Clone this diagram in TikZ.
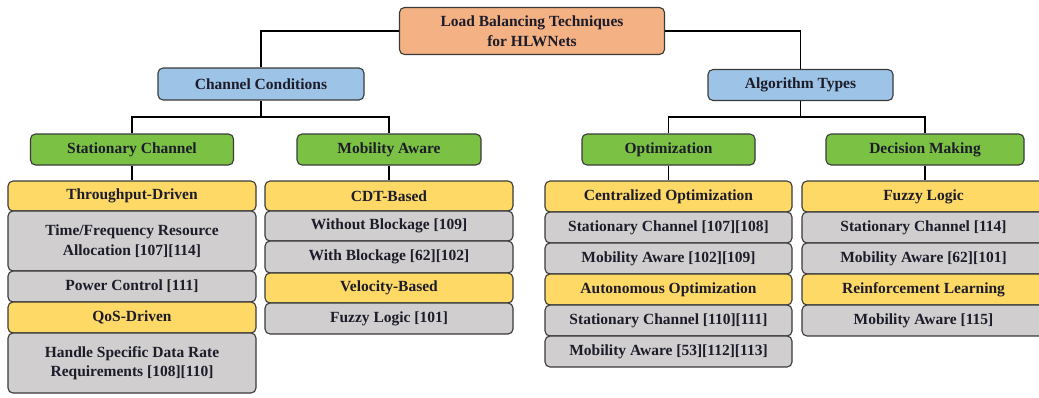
\documentclass[tikz,border=0pt]{standalone}
\usepackage{fontspec}
\setmainfont{Liberation Serif}
\definecolor{cRoot}{HTML}{F4B183}
\definecolor{cBlue}{HTML}{9DC3E6}
\definecolor{cGreen}{HTML}{7BC143}
\definecolor{cYellow}{HTML}{FFD966}
\definecolor{cGray}{HTML}{D0CECE}
\definecolor{cEdge}{HTML}{3A3A3A}
\definecolor{cText}{HTML}{1C1C2A}
\tikzset{
  box/.style={draw=cEdge, line width=1.1pt, rounded corners=5pt, inner sep=0pt, align=center,
    font=\bfseries\fontsize{15.5}{19.5}\selectfont, text=cText},
  rootbox/.style={box, fill=cRoot},
  bluebox/.style={box, fill=cBlue},
  greenbox/.style={box, fill=cGreen},
  ybox/.style={box, fill=cYellow},
  gbox/.style={box, fill=cGray},
  link/.style={draw=black, line width=1.8pt},
}
\begin{document}
\begin{tikzpicture}[x=1pt,y=-1pt]
\useasboundingbox (0,0) rectangle (1039,397);
% root
\node[rootbox, minimum width=265, minimum height=47] (root) at (532,31) {Load Balancing Techniques\\for HLWNets};
% level 1
\node[bluebox, minimum width=206, minimum height=32] (cc) at (261,84) {Channel Conditions};
\node[bluebox, minimum width=185, minimum height=31] (at) at (800.5,85) {Algorithm Types};
% level 2
\node[greenbox, minimum width=203, minimum height=31] (sc) at (132,149.5) {Stationary Channel};
\node[greenbox, minimum width=184, minimum height=31] (ma) at (389,149.5) {Mobility Aware};
\node[greenbox, minimum width=173, minimum height=31] (op) at (668.5,149.5) {Optimization};
\node[greenbox, minimum width=198, minimum height=31] (dm) at (925,149.5) {Decision Making};
% stack 1
\node[ybox, minimum width=248, minimum height=30] (s1a) at (132,196) {Throughput-Driven};
\node[gbox, minimum width=248, minimum height=60] (s1b) at (132,241) {Time/Frequency Resource\\Allocation [107][114]};
\node[gbox, minimum width=248, minimum height=31] (s1c) at (132,286.5) {Power Control [111]};
\node[ybox, minimum width=248, minimum height=31] (s1d) at (132,317.5) {QoS-Driven};
\node[gbox, minimum width=248, minimum height=60] (s1e) at (132,363) {Handle Specific Data Rate\\Requirements [108][110]};
% stack 2
\node[ybox, minimum width=248, minimum height=30] (s2a) at (389,196) {CDT-Based};
\node[gbox, minimum width=248, minimum height=30] (s2b) at (389,226) {Without Blockage [109]};
\node[gbox, minimum width=248, minimum height=32] (s2c) at (389,257) {With Blockage [62][102]};
\node[ybox, minimum width=248, minimum height=30] (s2d) at (389,288) {Velocity-Based};
\node[gbox, minimum width=248, minimum height=31] (s2e) at (389,318.5) {Fuzzy Logic [101]};
% stack 3
\node[ybox, minimum width=247, minimum height=31] (s3a) at (668.5,196.5) {Centralized Optimization};
\node[gbox, minimum width=247, minimum height=31] (s3b) at (668.5,227.5) {Stationary Channel [107][108]};
\node[gbox, minimum width=247, minimum height=31] (s3c) at (668.5,258.5) {Mobility Aware [102][109]};
\node[ybox, minimum width=247, minimum height=31] (s3d) at (668.5,289.5) {Autonomous Optimization};
\node[gbox, minimum width=247, minimum height=31] (s3e) at (668.5,320.5) {Stationary Channel [110][111]};
\node[gbox, minimum width=247, minimum height=31] (s3f) at (668.5,351.5) {Mobility Aware [53][112][113]};
% stack 4
\node[ybox, minimum width=243, minimum height=31] (s4a) at (923.5,196.5) {Fuzzy Logic};
\node[gbox, minimum width=243, minimum height=31] (s4b) at (923.5,227.5) {Stationary Channel [114]};
\node[gbox, minimum width=243, minimum height=31] (s4c) at (923.5,258.5) {Mobility Aware [62][101]};
\node[ybox, minimum width=243, minimum height=31] (s4d) at (923.5,289.5) {Reinforcement Learning};
\node[gbox, minimum width=243, minimum height=31] (s4e) at (923.5,320.5) {Mobility Aware [115]};
% connectors
\path[link] (root.west) -| (cc.north);
\path[link] (root.east) -| (at.north);
\coordinate (j1) at (261,117);
\coordinate (j2) at (800.5,117);
\path[link] (cc.south) -- (j1);
\path[link] (sc.north) |- (j1) -| (ma.north);
\path[link] (at.south) -- (j2);
\path[link] (op.north) |- (j2) -| (dm.north);
\path[link] (sc.south) -- (s1a.north);
\path[link] (ma.south) -- (s2a.north);
\path[link] (op.south) -- (s3a.north);
\path[link] (dm.south) -- (dm.south |- s4a.north);
\end{tikzpicture}
\end{document}
